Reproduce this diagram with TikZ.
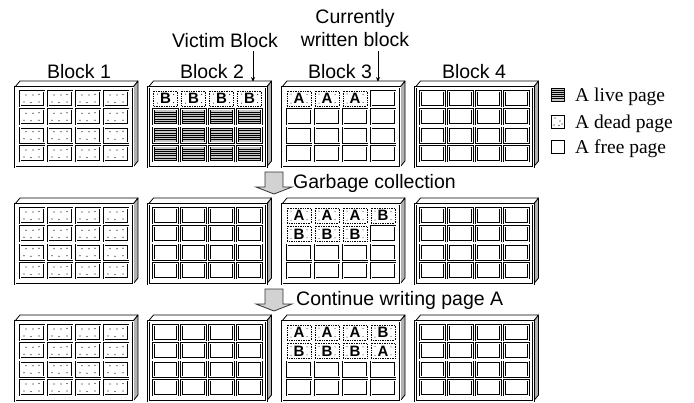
\documentclass[tikz,border=0pt]{standalone}
\usepackage{fontspec}
\usetikzlibrary{arrows.meta}
\newfontfamily\lsans{Liberation Sans}
\newfontfamily\lserif{Liberation Serif}
\newcounter{pgn}
\tikzset{
  lbl/.style={font=\lsans\fontsize{19.5}{22}\selectfont, inner sep=0pt, anchor=base},
  leg/.style={font=\lserif\fontsize{19.5}{22}\selectfont, inner sep=0pt, anchor=base west},
  letr/.style={font=\lsans\bfseries\fontsize{15}{15}\selectfont, inner sep=0pt},
  cellfr/.style={draw=black, line width=0.75pt, double=white, double distance=0.8pt},
  frontf/.style={draw=black, line width=0.8pt, double=white, double distance=1pt},
  topf/.style={draw=black, line width=0.8pt, fill=white, line join=round},
  sidef/.style={draw=black, line width=0.8pt, fill=gray!60, line join=round},
  bigarrow/.style={draw=black!80, line width=0.8pt, fill=gray!35},
  ptr/.style={line width=0.8pt, -{Stealth[length=5pt,width=4pt]}}
}
\newcommand\blockframe[2]{%
  \filldraw[sidef] ({#1+118},{#2}) -- ({#1+123},{#2-6}) -- ({#1+123},{#2+74}) -- ({#1+118},{#2+80}) -- cycle;
  \filldraw[topf] (#1,#2) -- ({#1+5},{#2-6}) -- ({#1+123},{#2-6}) -- ({#1+118},{#2}) -- cycle;
  \draw[frontf] (#1,#2) rectangle ({#1+118},{#2+80});
}
\newcommand\pgfree[2]{\draw[cellfr] (#1,#2) rectangle ({#1+24},{#2+15});}
\newcommand\pgdead[2]{\pgfree{#1}{#2}%
  \foreach \dx/\dy in {6/4,13/4,19/3.5,4/11,11/11.5,19/11}{\fill ({#1+\dx},{#2+\dy}) circle (0.6pt);}}
\newcommand\pglive[2]{\fill[gray!45] (#1,#2) rectangle ({#1+24},{#2+15});
  \foreach \k in {3,5.3,7.6,9.9,12.2}{\draw[line width=0.9pt] ({#1+1},{#2+\k}) -- ({#1+23},{#2+\k});}
  \pgfree{#1}{#2}}
\newcommand\pgletter[3]{\draw[densely dotted, line width=0.7pt] (#1,#2) rectangle ({#1+24},{#2+15});
  \foreach \dx/\dy in {4/3,20/3.5,4/12,20/11.5}{\fill ({#1+\dx},{#2+\dy}) circle (0.5pt);}
  \stepcounter{pgn}\node[letr] (L\arabic{pgn}) at ({#1+12},{#2+7.8}) {#3};}
\newcommand\pgA[2]{\pgletter{#1}{#2}{A}}
\newcommand\pgB[2]{\pgletter{#1}{#2}{B}}
\newcommand\pcell[5]{%
  \pgfmathsetmacro\pcx{#1+5+28*#3}%
  \pgfmathsetmacro\pcy{#2+4+18.33*#4}%
  \csname pg#5\endcsname{\pcx}{\pcy}}
\newcommand\blockfill[3]{%
  \blockframe{#1}{#2}%
  \foreach \t [count=\i from 0] in {#3}{%
    \pgfmathtruncatemacro\pcol{mod(\i,4)}%
    \pgfmathtruncatemacro\prow{div(\i,4)}%
    \pcell{#1}{#2}{\pcol}{\prow}{\t}}}
\begin{document}
\begin{tikzpicture}[x=1pt,y=-1pt]
\useasboundingbox (0,0) rectangle (694,402);
% labels
\node[lbl] (blk1) at (79,78) {Block 1};
\node[lbl] (blk2) at (212,78) {Block 2};
\node[lbl] (blk3) at (340,78) {Block 3};
\node[lbl] (blk4) at (474,78) {Block 4};
\node[lbl] (victim) at (225,47) {Victim Block};
\node[lbl] (curr1) at (355,23) {Currently};
\node[lbl] (curr2) at (355,46) {written block};
\coordinate (va) at (253,51);
\coordinate (vb) at (253,82);
\coordinate (ca) at (378,51);
\coordinate (cb) at (378,82);
\draw[ptr] (va) -- (vb);
\draw[ptr] (ca) -- (cb);
% row 1
\blockfill{15}{87}{dead,dead,dead,dead,dead,dead,dead,dead,dead,dead,dead,dead,dead,dead,dead,dead}
\blockfill{148.5}{87}{B,B,B,B,live,live,live,live,live,live,live,live,live,live,live,live}
\blockfill{282}{87}{A,A,A,free,free,free,free,free,free,free,free,free,free,free,free,free}
\blockfill{415.5}{87}{free,free,free,free,free,free,free,free,free,free,free,free,free,free,free,free}
% row 2
\blockfill{15}{204}{dead,dead,dead,dead,dead,dead,dead,dead,dead,dead,dead,dead,dead,dead,dead,dead}
\blockfill{148.5}{204}{free,free,free,free,free,free,free,free,free,free,free,free,free,free,free,free}
\blockfill{282}{204}{A,A,A,B,B,B,B,free,free,free,free,free,free,free,free,free}
\blockfill{415.5}{204}{free,free,free,free,free,free,free,free,free,free,free,free,free,free,free,free}
% row 3
\blockfill{15}{321}{dead,dead,dead,dead,dead,dead,dead,dead,dead,dead,dead,dead,dead,dead,dead,dead}
\blockfill{148.5}{321}{free,free,free,free,free,free,free,free,free,free,free,free,free,free,free,free}
\blockfill{282}{321}{A,A,A,B,B,B,B,A,free,free,free,free,free,free,free,free}
\blockfill{415.5}{321}{free,free,free,free,free,free,free,free,free,free,free,free,free,free,free,free}
% big arrows
\filldraw[bigarrow] (265,172) -- (283,172) -- (283,187) -- (292,187) -- (274,194) -- (256,187) -- (265,187) -- cycle;
\node[lbl, anchor=base west] (gc) at (293,188) {Garbage collection};
\filldraw[bigarrow] (265,289) -- (283,289) -- (283,304) -- (292,304) -- (274,311) -- (256,304) -- (265,304) -- cycle;
\node[lbl, anchor=base west] (cw) at (296,305) {Continue writing page A};
% legend
\fill[gray!45] (551,88) rectangle (564,101);
\foreach \k in {90,92.2,94.4,96.6,98.8}{\draw[line width=1pt] (551.5,\k) -- (563.5,\k);}
\draw[line width=1pt] (551,88) rectangle (564,101);
\draw[line width=0.8pt] (551,115) rectangle (564,128);
\foreach \dx/\dy in {4/3,9/6,3/10,8/10.5,11/9}{\fill ({551+\dx},{115+\dy}) circle (0.6pt);}
\draw[line width=0.9pt] (551,140) rectangle (564,153);
\node[leg] (lg1) at (575,101) {A live page};
\node[leg] (lg2) at (575,128) {A dead page};
\node[leg] (lg3) at (575,153) {A free page};
\end{tikzpicture}
\end{document}
